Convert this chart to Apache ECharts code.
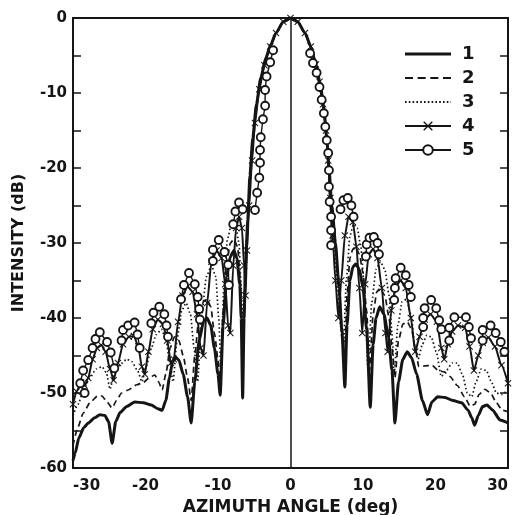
<!DOCTYPE html>
<html>
<head>
<meta charset="utf-8">
<script src="https://cdn.jsdelivr.net/npm/echarts/dist/echarts.min.js"></script>
<style>
  html, body { margin: 0; padding: 0; background: #fff; }
  #chart { width: 513px; height: 515px; }
</style>
</head>
<body>
<div id="chart"></div>
<script>
// axis ticks
var xTicks = [-30, -20, -10, 0, 10, 20, 30];
var yTicks = [0, -10, -20, -30, -40, -50, -60];
var legendNames = ['1', '2', '3', '4', '5'];

// curve 1 (solid) [deg, dB]
var curve1 = [[-30,-59],[-29.7,-58],[-29.2,-56],[-28.5,-54.6],[-27.9,-54],[-27,-53.3],[-26.3,-52.9],[-25.6,-53],[-25.1,-53.8],[-24.6,-56.7],[-24.1,-53.8],[-23.5,-52.6],[-22.6,-51.8],[-21.5,-51.2],[-20.3,-51.3],[-19.2,-51.6],[-18.3,-52.1],[-17.7,-52.3],[-17.2,-51],[-16.7,-48],[-16.3,-46],[-15.9,-45.2],[-15.4,-45.6],[-14.8,-47.5],[-14.2,-50.5],[-13.7,-54],[-13.2,-48.5],[-12.6,-43],[-12.0,-40.5],[-11.5,-40],[-11.0,-41],[-10.5,-44],[-10.0,-47.5],[-9.7,-50.3],[-9.3,-41],[-8.8,-34.5],[-8.3,-31.8],[-7.8,-31],[-7.4,-32],[-7.0,-35.5],[-6.8,-40],[-6.6,-50.7],[-6.4,-40],[-6.2,-33],[-5.9,-27],[-5.6,-21],[-5.2,-16],[-4.7,-11.5],[-4.1,-8],[-3.4,-5.3],[-2.7,-3.5],[-2.0,-2.0],[-1.0,-0.5],[0,0],[1.0,-0.5],[2.0,-2.0],[2.8,-3.8],[3.5,-6.2],[4.1,-8.8],[4.6,-12],[5.0,-16],[5.3,-20],[5.7,-25],[6.2,-30],[6.7,-36],[7.1,-42],[7.5,-49.2],[7.8,-41],[8.2,-35],[8.6,-33.2],[9.0,-32.8],[9.5,-33.5],[10.0,-36],[10.5,-41.5],[11.0,-51.9],[11.4,-43.5],[11.8,-40],[12.3,-38.5],[12.9,-39.5],[13.5,-42.5],[14.0,-47],[14.4,-54],[14.9,-48.5],[15.5,-45.5],[16.1,-44.5],[16.7,-45.3],[17.4,-47.5],[18.2,-51],[18.9,-52.9],[19.5,-51.2],[20.3,-50.5],[21.3,-50.6],[22.4,-51],[23.6,-51.3],[24.5,-52.3],[25.0,-53.3],[25.4,-54.3],[25.9,-53],[26.5,-51.8],[27.1,-51.6],[27.9,-52.3],[28.9,-53.6],[30,-54]];

// curve 2 (dashed)
var curve2 = [[-30,-57],[-29.3,-54.5],[-28.6,-52.7],[-27.6,-51.2],[-26.6,-50.4],[-26,-50.4],[-25.3,-51.2],[-24.6,-52],[-24.0,-51],[-23.3,-50],[-22.4,-49.6],[-21.2,-48.9],[-20.3,-48.6],[-19.4,-47.9],[-18.7,-47.6],[-18.2,-48.5],[-17.7,-49.6],[-17.2,-47.5],[-16.6,-44],[-16.0,-42.5],[-15.4,-43],[-14.8,-45],[-14.2,-48],[-13.7,-51],[-13.2,-45],[-12.6,-39.5],[-12.0,-37.8],[-11.5,-37.5],[-11.0,-38.5],[-10.5,-42],[-10.0,-45.5],[-9.7,-48],[-9.3,-39],[-8.8,-32.5],[-8.3,-30],[-7.8,-29.5],[-7.3,-30.5],[-6.9,-35],[-6.6,-46],[-6.4,-38],[-6.2,-32],[-5.9,-26.5],[-5.6,-21],[-5.2,-16],[-4.7,-11.5],[-4.1,-8],[-3.4,-5.3],[-2.7,-3.5],[-2.0,-2.0],[-1.0,-0.5],[0,0],[1.0,-0.5],[2.0,-2.0],[2.8,-3.8],[3.5,-6.2],[4.1,-8.8],[4.6,-12],[5.0,-16],[5.3,-20],[5.7,-25],[6.2,-30],[6.7,-36],[7.1,-41],[7.5,-45],[7.8,-37],[8.2,-32],[8.6,-30.8],[9.0,-30.5],[9.5,-31.5],[10.0,-34],[10.5,-39],[10.9,-47],[11.4,-39.5],[11.9,-36.5],[12.4,-36],[13.0,-37],[13.6,-40],[14.0,-44],[14.4,-48],[14.9,-43],[15.5,-40.8],[16.1,-40.5],[16.7,-41.5],[17.2,-44],[17.7,-46.5],[18.4,-46.4],[19.5,-46.3],[20.4,-47],[21.2,-47.2],[22.0,-47.8],[23.0,-49],[24.0,-50.5],[24.8,-51.8],[25.4,-51.5],[26.0,-50.2],[26.8,-49.5],[27.6,-50],[28.4,-51.3],[29.2,-52.3],[30,-52.5]];

// curve 3 (dotted)
var curve3 = [[-30,-53],[-29.3,-51.5],[-28.5,-49.5],[-27.7,-48],[-26.8,-46.8],[-26.0,-46.5],[-25.4,-47.3],[-24.9,-49.5],[-24.3,-47.5],[-23.5,-46.2],[-22.6,-45.5],[-21.9,-45.8],[-21.1,-47],[-20.5,-48.5],[-19.9,-46.5],[-19.2,-44],[-18.5,-42.2],[-17.8,-41.5],[-17.2,-42.8],[-16.7,-45.5],[-16.2,-48.5],[-15.6,-42.5],[-15.0,-39],[-14.4,-38],[-13.8,-39.5],[-13.3,-44],[-12.8,-48.5],[-12.3,-40],[-11.6,-34.5],[-10.9,-33],[-10.3,-34.5],[-9.9,-40],[-9.6,-47],[-9.2,-36],[-8.7,-29.5],[-8.1,-27.3],[-7.6,-27.5],[-7.1,-30],[-6.8,-36],[-6.5,-43],[-6.3,-36],[-6.0,-29],[-5.7,-23],[-5.3,-17],[-4.8,-12],[-4.2,-8.3],[-3.4,-5.3],[-2.7,-3.5],[-2.0,-2.0],[-1.0,-0.5],[0,0],[1.0,-0.5],[2.0,-2.0],[2.8,-3.8],[3.5,-6.2],[4.1,-8.8],[4.6,-12],[5.0,-16],[5.3,-20],[5.6,-25],[6.0,-30],[6.5,-36],[6.9,-41],[7.3,-44],[7.7,-35],[8.2,-29],[8.7,-27.5],[9.2,-28],[9.7,-30.5],[10.2,-36],[10.7,-47],[11.2,-38],[11.8,-33.5],[12.4,-32.5],[13.0,-33.5],[13.6,-37],[14.0,-42],[14.3,-47.5],[14.8,-41],[15.4,-37.8],[16.0,-37.5],[16.6,-39.5],[17.2,-44],[17.6,-45.5],[18.2,-43.5],[18.8,-42.3],[19.4,-42.5],[20.1,-44.5],[20.8,-47.8],[21.5,-47],[22.3,-46],[23.0,-46],[23.7,-47.5],[24.4,-50],[25.0,-50.5],[25.6,-48.5],[26.3,-46.8],[27.0,-47],[27.7,-48.5],[28.4,-50],[29.2,-50.2],[30,-49.5]];

// curve 4 (line with x marks)
var curve4 = [[-30,-51.5],[-29.5,-49.8],[-28.9,-48.6],[-28.4,-49],[-27.9,-48],[-27.3,-45.5],[-26.7,-44],[-26.1,-43.6],[-25.5,-44.5],[-24.9,-46.8],[-24.4,-48.3],[-23.8,-46],[-23.1,-43.5],[-22.3,-42.5],[-21.6,-42.4],[-21.0,-43.8],[-20.5,-46.5],[-20.1,-47.5],[-19.6,-44.5],[-19.0,-41.5],[-18.3,-40.2],[-17.6,-40.8],[-17.0,-43],[-16.5,-46],[-16.1,-45.5],[-15.5,-40.5],[-14.9,-37],[-14.2,-35.8],[-13.5,-36.5],[-12.9,-39.5],[-12.4,-44],[-12.0,-45],[-11.5,-38],[-10.9,-32.5],[-10.2,-31],[-9.5,-32],[-9.0,-35.5],[-8.6,-41],[-8.3,-42],[-7.9,-33],[-7.5,-28],[-7.1,-26.5],[-6.7,-28],[-6.4,-33],[-6.2,-37],[-6.0,-31],[-5.7,-25],[-5.3,-19],[-4.9,-14],[-4.3,-9.5],[-3.6,-6.3],[-2.8,-3.8],[-2.0,-2.0],[-1.0,-0.5],[0,0],[1.0,-0.5],[2.0,-2.0],[2.8,-3.8],[3.5,-6.2],[4.0,-8.5],[4.5,-11.5],[4.9,-15],[5.2,-19],[5.5,-24],[5.8,-29],[6.2,-35],[6.6,-40],[7.0,-35],[7.5,-29],[8.0,-26.5],[8.6,-27.2],[9.1,-30.5],[9.5,-36],[9.9,-42],[10.3,-35.5],[10.8,-31.5],[11.4,-30.8],[12.0,-32],[12.6,-36],[13.1,-42],[13.4,-44.5],[13.9,-39],[14.5,-35.8],[15.2,-35],[15.9,-36],[16.6,-40],[17.2,-44.5],[17.8,-42.5],[18.5,-40.2],[19.3,-39.5],[20.2,-40.5],[20.8,-44],[21.2,-45.5],[21.7,-43.5],[22.3,-41.8],[23.1,-41],[24.1,-41.3],[24.7,-43.8],[25.3,-47],[25.9,-45],[26.5,-43.3],[27.3,-42.6],[28.2,-43.8],[29.1,-46.3],[30,-48.7]];

// curve 5 (circles), one small array per lobe
var circlesL6 = [[-28.4,-50.0],[-29.0,-48.7],[-28.6,-47.0],[-27.9,-45.6],[-27.3,-44.0],[-26.9,-42.8],[-26.3,-41.9],[-25.3,-43.2],[-24.8,-44.6],[-24.3,-46.7]];
var circlesL5 = [[-23.3,-43.0],[-23.1,-41.6],[-22.4,-41.0],[-21.5,-40.6],[-21.1,-42.2],[-20.8,-44.0]];
var circlesL4 = [[-19.2,-40.7],[-18.9,-39.3],[-18.1,-38.5],[-17.4,-39.5],[-17.1,-41.0],[-16.9,-42.5]];
var circlesL3 = [[-15.1,-37.5],[-14.7,-35.6],[-14.0,-34.0],[-13.2,-35.5],[-12.8,-37.2],[-12.6,-38.8],[-12.5,-40.2]];
var circlesL2 = [[-10.7,-32.4],[-10.7,-30.9],[-9.9,-29.6],[-9.1,-31.2],[-8.6,-32.9],[-8.5,-35.6]];
var circlesL1 = [[-7.9,-27.5],[-7.6,-25.8],[-7.1,-24.6],[-6.6,-25.5]];
var circlesMainLeft = [[-4.9,-25.6],[-4.6,-23.3],[-4.3,-21.3],[-4.2,-19.3],[-4.2,-17.6],[-4.1,-15.9],[-3.8,-13.5],[-3.5,-11.7],[-3.5,-9.6],[-3.3,-7.8],[-2.8,-5.9],[-2.4,-4.3]];
var circlesMainRight = [[2.7,-4.7],[3.1,-6.0],[3.6,-7.3],[4.0,-9.2],[4.3,-10.9],[4.6,-12.7],[4.8,-14.5],[5.0,-16.3],[5.2,-18.0],[5.3,-20.3],[5.3,-22.5],[5.4,-24.5],[5.6,-26.5],[5.6,-28.3],[5.6,-30.3]];
var circlesR1 = [[6.9,-25.5],[7.3,-24.3],[7.9,-24.0],[8.4,-25.0],[8.7,-26.5]];
var circlesR2 = [[10.4,-31.8],[10.5,-30.2],[10.9,-29.3],[11.5,-29.2],[12.0,-30.0],[12.2,-31.5]];
var circlesR3 = [[14.3,-37.6],[14.4,-36.0],[14.5,-34.7],[15.2,-33.3],[15.9,-34.3],[16.3,-35.6],[16.6,-37.2]];
var circlesR4 = [[18.3,-41.2],[18.3,-40.0],[18.5,-38.7],[19.4,-37.6],[20.1,-38.7],[20.5,-40.3],[20.8,-41.5]];
var circlesR5 = [[21.9,-43.0],[21.9,-41.3],[22.6,-39.9],[24.2,-39.9],[24.6,-41.2],[24.9,-42.7]];
var circlesR6 = [[26.5,-43.0],[26.5,-41.6],[27.6,-41.0],[28.3,-42.0],[29.0,-43.2],[29.5,-44.5]];

var circleLobes = [circlesL6, circlesL5, circlesL4, circlesL3, circlesL2, circlesL1, circlesMainLeft,
  circlesMainRight, circlesR1, circlesR2, circlesR3, circlesR4, circlesR5, circlesR6];
var circleData = [];
circleLobes.forEach(function (lobe, i) {
  if (i > 0) circleData.push(['-', '-']); // break the line between lobes
  circleData = circleData.concat(lobe);
});

var ink = '#151515';
var font = 'DejaVu Sans';
var xMark = 'path://M0,1L1,0L5,4L9,0L10,1L6,5L10,9L9,10L5,6L1,10L0,9L4,5Z';

// legend samples for the plain line styles (drawn as filled strips)
function strip(dash, gap, h) {
  var p = 'path://', x = 0;
  while (x < 46) {
    var w = Math.min(dash, 46 - x);
    p += 'M' + x + ',0h' + w + 'v' + h + 'h' + (-w) + 'z';
    x += dash + gap;
  }
  return p;
}
var iconSolid = 'path://M0,0h46v3h-46z';
var iconDashed = strip(8, 4.6, 2);
var iconDotted = strip(1.6, 2.2, 1.8);

var chart = echarts.init(document.getElementById('chart'), null, { renderer: 'canvas' });

var frameLine = { show: true, onZero: false, lineStyle: { color: ink, width: 2 } };

var option = {
  animation: false,
  backgroundColor: '#fff',
  grid: { left: 73, right: 5, top: 18, bottom: 47, outerBoundsMode: 'none', containLabel: false },
  legend: {
    orient: 'vertical',
    left: 399,
    top: 40,
    itemWidth: 46,
    itemHeight: 12,
    itemGap: 6,
    data: [
      { name: legendNames[0], icon: iconSolid },
      { name: legendNames[1], icon: iconDashed },
      { name: legendNames[2], icon: iconDotted },
      { name: legendNames[3] },
      { name: legendNames[4] }
    ],
    textStyle: { color: ink, fontSize: 18, fontWeight: 'bold', fontFamily: font, padding: [0, 0, 0, 6] }
  },
  xAxis: [{
    type: 'value',
    min: xTicks[0],
    max: xTicks[xTicks.length - 1],
    interval: 10,
    name: 'AZIMUTH ANGLE (deg)',
    nameLocation: 'middle',
    nameGap: 31,
    nameTextStyle: { color: ink, fontSize: 17, fontWeight: 'bold', fontFamily: font },
    axisLine: frameLine,
    axisTick: { show: false },
    splitLine: { show: false },
    axisLabel: {
      color: ink, fontSize: 15, fontWeight: 'bold', fontFamily: font, margin: 11,
      alignMinLabel: 'left', alignMaxLabel: 'right'
    }
  }, {
    type: 'value',
    position: 'top',
    min: xTicks[0],
    max: xTicks[xTicks.length - 1],
    axisLine: frameLine,
    axisTick: { show: false },
    axisLabel: { show: false },
    splitLine: { show: false }
  }],
  yAxis: [{
    type: 'value',
    position: 'left',
    min: yTicks[yTicks.length - 1],
    max: yTicks[0],
    interval: 5,
    name: 'INTENSITY (dB)',
    nameLocation: 'middle',
    nameGap: 46,
    nameRotate: 90,
    nameTextStyle: { color: ink, fontSize: 16, fontWeight: 'bold', fontFamily: font },
    axisLine: frameLine,
    axisTick: { show: true, inside: true, length: 8, lineStyle: { color: ink, width: 1.5 } },
    splitLine: { show: false },
    axisLabel: {
      color: ink, fontSize: 15, fontWeight: 'bold', fontFamily: font, margin: 6,
      formatter: function (v) { return yTicks.indexOf(v) >= 0 ? String(v) : ''; }
    }
  }, {
    type: 'value',
    position: 'right',
    min: yTicks[yTicks.length - 1],
    max: yTicks[0],
    interval: 5,
    axisLine: frameLine,
    axisTick: { show: true, inside: true, length: 8, lineStyle: { color: ink, width: 1.5 } },
    axisLabel: { show: false },
    splitLine: { show: false }
  }],
  series: [{
    name: '1',
    type: 'line',
    data: curve1,
    symbol: 'none',
    smooth: 0.2,
    smoothMonotone: 'x',
    z: 5,
    color: ink,
    lineStyle: { color: ink, width: 3 },
    markLine: {
      silent: true,
      symbol: 'none',
      label: { show: false },
      lineStyle: { color: ink, width: 1.5, type: 'solid' },
      data: [{ xAxis: 0 }]
    }
  }, {
    name: '2',
    type: 'line',
    data: curve2,
    symbol: 'none',
    smooth: 0.2,
    smoothMonotone: 'x',
    z: 4,
    color: ink,
    lineStyle: { color: ink, width: 1.7, type: [6, 4] }
  }, {
    name: '3',
    type: 'line',
    data: curve3,
    symbol: 'none',
    smooth: 0.2,
    smoothMonotone: 'x',
    z: 4,
    color: ink,
    lineStyle: { color: ink, width: 1.7, type: [1.5, 2.5] }
  }, {
    name: '4',
    type: 'line',
    data: curve4,
    symbol: xMark,
    symbolSize: 7,
    showAllSymbol: true,
    smooth: 0.2,
    smoothMonotone: 'x',
    z: 6,
    color: ink,
    itemStyle: { color: ink },
    lineStyle: { color: ink, width: 2 }
  }, {
    name: '5',
    type: 'line',
    data: circleData,
    symbol: 'circle',
    symbolSize: 8,
    showAllSymbol: true,
    connectNulls: false,
    z: 8,
    color: ink,
    itemStyle: { color: '#fff', borderColor: ink, borderWidth: 1.8 },
    lineStyle: { color: ink, width: 1.4 }
  }]
};

chart.setOption(option);
</script>
</body>
</html>
